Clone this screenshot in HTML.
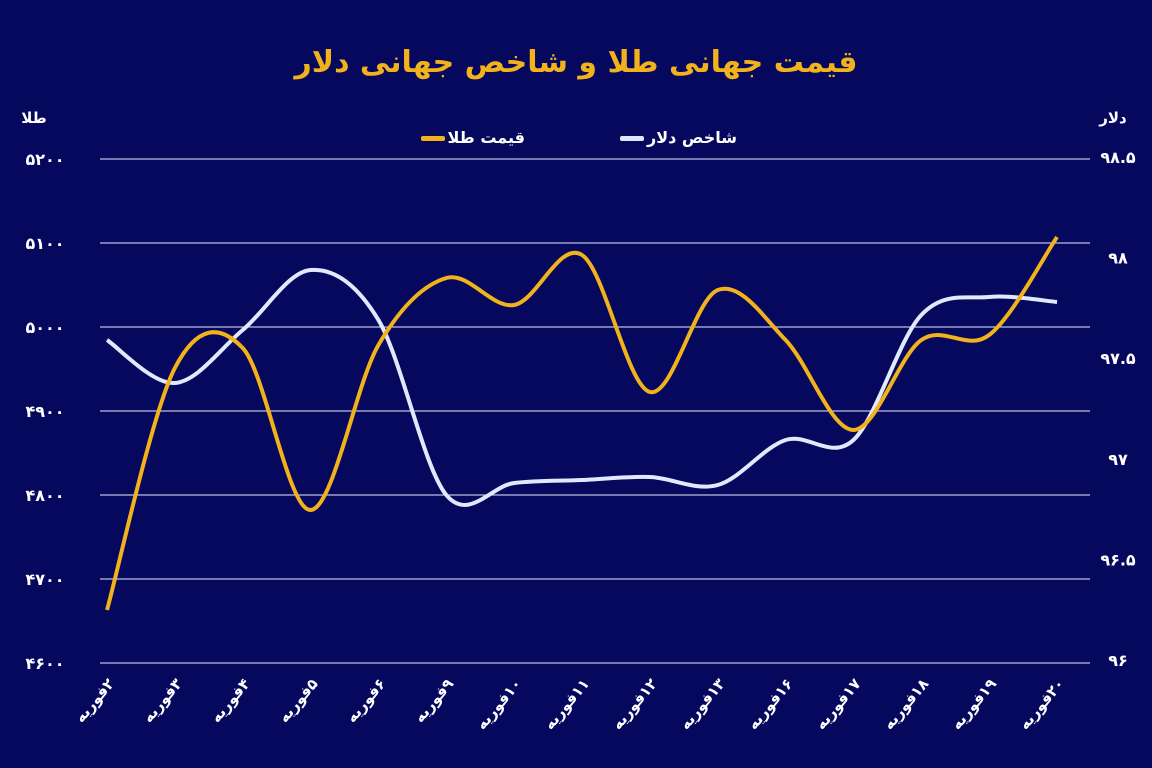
<!DOCTYPE html>
<html><head><meta charset="utf-8"><style>
html,body{margin:0;padding:0;background:#05085c;}
svg{display:block}
text{font-family:"DejaVu Sans","Noto Sans CJK SC",sans-serif;font-weight:bold;}
</style></head><body>
<svg id="c" width="1152" height="768" viewBox="0 0 1152 768">
<rect width="1152" height="768" fill="#05085c"/>
<text x="576" y="72" text-anchor="middle" fill="#f2b21c" font-size="30">قیمت جهانی طلا و شاخص جهانی دلار</text>
<text x="34" y="123" text-anchor="middle" fill="#fff" font-size="15">طلا</text>
<text x="1113" y="123" text-anchor="middle" fill="#fff" font-size="15">دلار</text>
<text x="525" y="143" text-anchor="end" fill="#fff" font-size="16">قیمت طلا</text>
<rect x="421" y="136" width="24" height="5" rx="2" fill="#f2b21c"/>
<text x="737" y="143" text-anchor="end" fill="#fff" font-size="16">شاخص دلار</text>
<rect x="620" y="136" width="24" height="5" rx="2" fill="#dfe6ff"/>
<g id="grid" stroke="#e8ecff" stroke-width="1"></g>
<g id="lab" fill="#fff" font-size="16"></g>
<path id="w" fill="none" stroke="#e2e8ff" stroke-width="4" stroke-linejoin="round"/>
<path id="g" fill="none" stroke="#f2b21c" stroke-width="4" stroke-linejoin="round"/>
</svg>
<script>
var ns="http://www.w3.org/2000/svg";
function fa(s){return String(s).replace(/[0-9]/g,d=>"۰۱۲۳۴۵۶۷۸۹"[d]);}
var grid=document.getElementById("grid"),lab=document.getElementById("lab");
var L=["5200","5100","5000","4900","4800","4700","4600"],R=["98.5","98","97.5","97","96.5","96"];
for(var i=0;i<7;i++){var y=159+i*84;var l=document.createElementNS(ns,"line");l.setAttribute("x1",100);l.setAttribute("x2",1090);l.setAttribute("y1",y);l.setAttribute("y2",y);grid.appendChild(l);
var t=document.createElementNS(ns,"text");t.setAttribute("x",45);t.setAttribute("y",y+6);t.setAttribute("text-anchor","middle");t.textContent=fa(L[i]);lab.appendChild(t);}
for(var i=0;i<6;i++){var y=157+i*100.6;var t=document.createElementNS(ns,"text");t.setAttribute("x",1118);t.setAttribute("y",y+6);t.setAttribute("text-anchor","middle");t.textContent=fa(R[i]);lab.appendChild(t);}
var D=[2,3,4,5,6,9,10,11,12,13,16,17,18,19,20];
var X=D.map((d,i)=>107+i*67.86);
D.forEach((d,i)=>{var ax=X[i]+8,ay=684;var t=document.createElementNS(ns,"text");t.setAttribute("x",ax);t.setAttribute("y",ay);t.setAttribute("direction","rtl");t.setAttribute("text-anchor","start");t.setAttribute("transform","rotate(-50 "+ax+" "+ay+")");t.setAttribute("font-size","15");t.textContent=fa(d)+"فوریه";lab.appendChild(t);});
var G=[610,368,348,510,345,278,305,255,392,290,340,430,340,335,237];
var W=[340,383,330,270,320,495,483,480,477,485,440,440,315,297,302];
function path(Y){var p="M"+X[0]+","+Y[0];for(var i=0;i<Y.length-1;i++){var x0=X[Math.max(i-1,0)],y0=Y[Math.max(i-1,0)],x1=X[i],y1=Y[i],x2=X[i+1],y2=Y[i+1],x3=X[Math.min(i+2,Y.length-1)],y3=Y[Math.min(i+2,Y.length-1)];var k=6;p+=" C"+(x1+(x2-x0)/k)+","+(y1+(y2-y0)/k)+" "+(x2-(x3-x1)/k)+","+(y2-(y3-y1)/k)+" "+x2+","+y2;}return p;}
document.getElementById("g").setAttribute("d",path(G));
document.getElementById("w").setAttribute("d",path(W));
</script>
</body></html>
